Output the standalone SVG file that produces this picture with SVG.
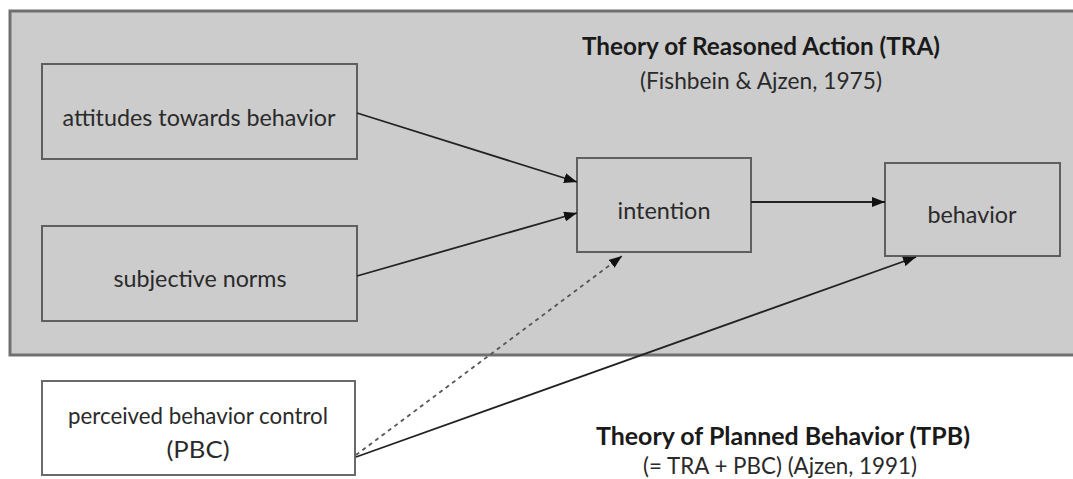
<svg xmlns="http://www.w3.org/2000/svg" width="1073" height="479" viewBox="0 0 1073 479">
<style>
.node{fill:#cccccc;stroke:#5f5f5f;stroke-width:2}
.white{fill:#ffffff;stroke:#6a6a6a;stroke-width:2}
.t{font-family:Lato,"Open Sans","Liberation Sans",sans-serif;font-size:24px;fill:#2a2a2a;text-anchor:middle}
.b{font-weight:bold;fill:#1a1a1a}
.c{stroke:#222;stroke-width:1.8;fill:none}
.d{stroke:#555;stroke-width:1.8;fill:none;stroke-dasharray:4 4}
</style>
<defs>
<marker id="ah" markerUnits="userSpaceOnUse" markerWidth="14" markerHeight="10" refX="13" refY="5" orient="auto">
<path d="M0,0 L13,5 L0,10 z" fill="#111"/>
</marker>
</defs>
<g id="tra-frame">
<rect x="10" y="11" width="1075" height="344" fill="#cccccc" stroke="#707070" stroke-width="3"/>
<text class="t b" x="761" y="55" textLength="358" lengthAdjust="spacingAndGlyphs">Theory of Reasoned Action (TRA)</text>
<text class="t" x="761" y="89" textLength="242" lengthAdjust="spacingAndGlyphs">(Fishbein &amp; Ajzen, 1975)</text>
</g>
<g id="attitudes">
<rect class="node" x="42" y="64" width="315" height="95"/>
<text class="t" x="199" y="126" textLength="273" lengthAdjust="spacingAndGlyphs">attitudes towards behavior</text>
</g>
<g id="norms">
<rect class="node" x="42" y="226" width="315" height="95"/>
<text class="t" x="200" y="287" textLength="173" lengthAdjust="spacingAndGlyphs">subjective norms</text>
</g>
<g id="pbc">
<rect class="white" x="42" y="381" width="313" height="94"/>
<text class="t" x="198" y="424" textLength="260" lengthAdjust="spacingAndGlyphs">perceived behavior control</text>
<text class="t" x="198" y="458" textLength="63" lengthAdjust="spacingAndGlyphs">(PBC)</text>
</g>
<g id="intention">
<rect class="node" x="577" y="158" width="174" height="94"/>
<text class="t" x="664" y="219" textLength="93" lengthAdjust="spacingAndGlyphs">intention</text>
</g>
<g id="behavior">
<rect class="node" x="885" y="163" width="175" height="93"/>
<text class="t" x="972" y="223" textLength="89" lengthAdjust="spacingAndGlyphs">behavior</text>
</g>
<g id="tpb-label">
<text class="t b" x="783" y="445" textLength="374" lengthAdjust="spacingAndGlyphs">Theory of Planned Behavior (TPB)</text>
<text class="t" x="780" y="474" textLength="274" lengthAdjust="spacingAndGlyphs">(= TRA + PBC) (Ajzen, 1991)</text>
</g>
<g id="connectors">
<path class="c" d="M357,113 L577,182" marker-end="url(#ah)"/>
<path class="c" d="M357,276 L577,213" marker-end="url(#ah)"/>
<path class="c" d="M751,202 L885,202" marker-end="url(#ah)"/>
<path class="d" d="M356,455 L622,256" marker-end="url(#ah)"/>
<path class="c" d="M356,457 L916,257" marker-end="url(#ah)"/>
</g>
</svg>
